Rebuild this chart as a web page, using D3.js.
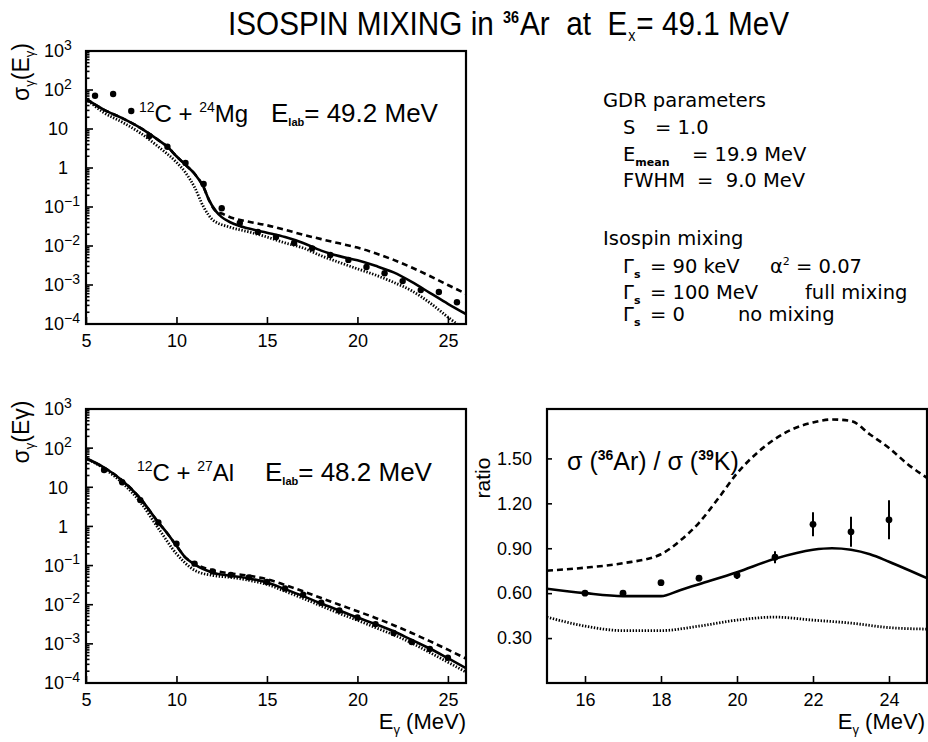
<!DOCTYPE html>
<html>
<head>
<meta charset="utf-8">
<script src="https://cdn.jsdelivr.net/npm/d3@7"></script>
<style>
  body { margin: 0; background: #fff; }
  svg { display: block; }
  text { fill: #000; white-space: pre; }
</style>
</head>
<body>
<svg id="fig" width="928" height="742"></svg>
<script>
// ---- data ----
// 12C + 24Mg, sigma_gamma(E_gamma) ; [E (MeV), sigma]
const mgData = [[5.5, 71], [6.5, 79], [7.5, 29], [8.5, 6.6], [9.5, 3.5], [10.5, 1.35], [11.5, 0.39],
  [12.5, 0.093], [13.5, 0.039], [14.5, 0.023], [15.5, 0.017], [16.5, 0.012], [17.5, 0.0087],
  [18.5, 0.0059], [19.5, 0.0044], [20.5, 0.0029], [21.5, 0.0020], [22.5, 0.00126], [23.5, 0.00074],
  [24.5, 0.00066], [25.5, 0.00036]];
const mgMixing = [[5, 59], [6, 31], [7, 19], [8, 10.7], [9, 5.2], [9.5, 3.5], [10, 2.0], [10.5, 1.2],
  [11, 0.71], [11.5, 0.32], [11.8, 0.15], [12.2, 0.076], [12.5, 0.055], [13, 0.040], [14, 0.028],
  [15, 0.022], [16, 0.017], [17, 0.012], [18, 0.0076], [19, 0.0055], [20, 0.0043], [21, 0.0031],
  [22, 0.0021], [23, 0.0012], [24, 0.00063], [25, 0.00033], [26, 0.00018]];
const mgFull = [[5, 59], [6, 31], [7, 19], [8, 10.7], [9, 5.2], [9.5, 3.5], [10, 2.0], [10.5, 1.2],
  [11, 0.71], [11.5, 0.32], [11.8, 0.15], [12.2, 0.076], [12.5, 0.068], [13, 0.054], [14, 0.042],
  [15, 0.034], [16, 0.026], [17, 0.0195], [18, 0.015], [19, 0.0117], [20, 0.0091], [21, 0.0065],
  [22, 0.0044], [23, 0.0028], [24, 0.0017], [25, 0.001], [26, 0.0006]];
const mgNone = [[5, 59], [6, 26], [7, 15], [8, 7.9], [9, 3.5], [10, 1.4], [10.5, 0.76], [11, 0.32],
  [11.5, 0.10], [12, 0.047], [13, 0.030], [14, 0.023], [15, 0.017], [16, 0.012], [17, 0.0089],
  [18, 0.0056], [19, 0.0038], [20, 0.0026], [21, 0.0018], [22, 0.00117], [23, 0.00071],
  [24, 0.00035], [25, 0.00015], [25.5, 0.0001]];

// 12C + 27Al
const alData = [[6, 27.5], [7, 13.5], [8, 4.7], [9, 1.26], [10, 0.36], [11, 0.112], [12, 0.071],
  [13, 0.058], [14, 0.050], [15, 0.038], [16, 0.026], [17, 0.018], [18, 0.0112], [19, 0.0071],
  [20, 0.0047], [21, 0.0032], [22, 0.0019], [23, 0.00112], [24, 0.00074], [25, 0.00044]];
const alMixing = [[5, 55], [6, 32], [7, 15], [8, 5.2], [9, 1.26], [9.5, 0.66], [10, 0.32], [10.5, 0.16],
  [11, 0.107], [12, 0.066], [13, 0.055], [14, 0.047], [15, 0.037], [16, 0.025], [17, 0.0166],
  [18, 0.0107], [19, 0.0071], [20, 0.0047], [21, 0.0032], [22, 0.0021], [23, 0.00126],
  [24, 0.00076], [25, 0.00043], [26, 0.00024]];
const alFull = [[5, 55], [6, 32], [7, 15], [8, 5.2], [9, 1.26], [9.5, 0.66], [10, 0.32], [10.5, 0.16],
  [11, 0.112], [12, 0.076], [13, 0.063], [14, 0.055], [15, 0.045], [16, 0.032], [17, 0.022],
  [18, 0.0148], [19, 0.010], [20, 0.0068], [21, 0.0046], [22, 0.003], [23, 0.0019],
  [24, 0.00117], [25, 0.00071], [26, 0.00042]];
const alNone = [[5, 55], [6, 30], [7, 13], [8, 4.2], [9, 0.89], [10, 0.20], [11, 0.076], [12, 0.056],
  [13, 0.050], [14, 0.042], [15, 0.033], [16, 0.022], [17, 0.0145], [18, 0.0093], [19, 0.006],
  [20, 0.004], [21, 0.0026], [22, 0.0017], [23, 0.00105], [24, 0.0006], [25, 0.00034], [26, 0.00019]];

// ratio sigma(36Ar) / sigma(39K)
const ratioE = [16, 17, 18, 19, 20, 21, 22, 23, 24];
const ratioVal = [0.60, 0.60, 0.67, 0.70, 0.72, 0.84, 1.06, 1.01, 1.09];
const ratioErr = [0.015, 0.015, 0.015, 0.02, 0.025, 0.04, 0.08, 0.10, 0.13];
const ratioFull = [[15, 0.75], [16, 0.77], [17, 0.80], [18, 0.86], [18.5, 0.95], [19, 1.07], [19.5, 1.23],
  [20, 1.40], [20.5, 1.53], [21, 1.63], [21.5, 1.70], [22, 1.74], [22.5, 1.76], [23, 1.75],
  [23.5, 1.66], [24, 1.57], [24.5, 1.46], [25, 1.37]];
const ratioMixing = [[15, 0.63], [16, 0.60], [17, 0.58], [18, 0.58], [18.5, 0.62], [19, 0.66], [20, 0.74],
  [21, 0.83], [22, 0.89], [22.5, 0.90], [23, 0.89], [23.5, 0.86], [24, 0.81], [25, 0.70]];
const ratioNone = [[15, 0.44], [16, 0.38], [17, 0.35], [18, 0.35], [19, 0.38], [20, 0.42], [21, 0.44],
  [22, 0.42], [23, 0.40], [24, 0.37], [25, 0.36]];

const logExponents = [-4, -3, -2, -1, 0, 1, 2, 3];
const logXTicks = [5, 10, 15, 20, 25];
const ratioYTicks = [0.3, 0.6, 0.9, 1.2, 1.5];
const ratioXTicks = [16, 18, 20, 22, 24];

// ---- drawing ----
const svg = d3.select("#fig");
const tickFont = "Liberation Sans, Arial, sans-serif";
const textFont = "Liberation Sans, Arial, sans-serif";
const legendFont = "DejaVu Sans, sans-serif";

const lineStyles = {
  mixing: { width: 2.6, dash: null },
  full: { width: 2.6, dash: "6,4" },
  none: { width: 2.8, dash: "1.4,1.6" }
};

function drawCurve(g, data, x, y, style) {
  const line = d3.line()
    .x(d => x(d[0]))
    .y(d => y(d[1]))
    .curve(d3.curveMonotoneX);
  g.append("path")
    .datum(data)
    .attr("d", line)
    .attr("fill", "none")
    .attr("stroke", "#000")
    .attr("stroke-width", style.width)
    .attr("stroke-dasharray", style.dash);
}

function addClip(id, box) {
  svg.append("clipPath").attr("id", id)
    .append("rect")
    .attr("x", box.left).attr("y", box.top)
    .attr("width", box.right - box.left).attr("height", box.bottom - box.top);
}

function logPanel(id, box, data, mixing, full, none) {
  const x = d3.scaleLinear().domain([5, 26]).range([box.left, box.right]);
  const y = d3.scaleLog().domain([1e-4, 1e3]).range([box.bottom, box.top]);
  addClip(id, box);

  const plot = svg.append("g").attr("clip-path", `url(#${id})`);
  drawCurve(plot, none, x, y, lineStyles.none);
  drawCurve(plot, full, x, y, lineStyles.full);
  drawCurve(plot, mixing, x, y, lineStyles.mixing);

  plot.selectAll("circle.pt")
    .data(data)
    .enter()
    .append("circle")
    .attr("class", "pt")
    .attr("cx", d => x(d[0]))
    .attr("cy", d => y(d[1]))
    .attr("r", 3.2)
    .attr("fill", "#000");

  // log ticks on the left axis
  const ticks = svg.append("g").attr("stroke", "#000").attr("stroke-width", 1.6);
  logExponents.forEach(k => {
    const v = Math.pow(10, k);
    ticks.append("line")
      .attr("x1", box.left).attr("x2", box.left + 7)
      .attr("y1", y(v)).attr("y2", y(v));
    if (k < 3) {
      for (let m = 2; m <= 9; m++) {
        ticks.append("line")
          .attr("x1", box.left).attr("x2", box.left + 3.5)
          .attr("y1", y(m * v)).attr("y2", y(m * v));
      }
    }
  });

  // log tick labels
  const labels = svg.append("g")
    .attr("font-family", tickFont)
    .attr("font-size", 18);
  logExponents.forEach(k => {
    const ty = y(Math.pow(10, k));
    if (k === 0 || k === 1) {
      labels.append("text")
        .attr("x", 68).attr("y", ty).attr("dy", "0.36em")
        .attr("text-anchor", "end")
        .text(k === 0 ? "1" : "10");
    } else {
      const t = labels.append("text")
        .attr("x", 44).attr("y", ty).attr("dy", "0.36em");
      t.append("tspan").text("10");
      t.append("tspan")
        .attr("font-size", 14)
        .attr("dy", "-0.55em")
        .text(k < 0 ? "\u2212" + (-k) : String(k));
    }
  });

  // bottom axis
  const axis = svg.append("g")
    .attr("transform", `translate(0,${box.bottom})`)
    .attr("font-family", tickFont);
  axis.call(d3.axisBottom(x).tickValues(d3.range(5, 27)).tickSize(-3.5).tickFormat(""));
  axis.call(d3.axisBottom(x).tickValues(logXTicks).tickSize(-7).tickPadding(10).tickFormat(d3.format("d")));
  axis.select(".domain").remove();
  axis.selectAll("line").attr("stroke-width", 1.6);
  axis.selectAll("text").attr("font-size", 18).attr("fill", "#000");

  svg.append("rect")
    .attr("x", box.left).attr("y", box.top)
    .attr("width", box.right - box.left).attr("height", box.bottom - box.top)
    .attr("fill", "none").attr("stroke", "#000").attr("stroke-width", 2.2);
  return { x, y };
}

// title: pieces laid side by side, then squeezed to the narrow look of the original
const titleParts = [
  { t: "ISOSPIN MIXING in ", size: 33, dy: 0 },
  { t: "36", size: 16, dy: -12, bold: true },
  { t: "Ar  at  E", size: 33, dy: 0 },
  { t: "x", size: 16, dy: 6 },
  { t: "= 49.1 MeV", size: 33, dy: 0 }
];
const titleG = svg.append("g").attr("font-family", textFont);
let titleX = 0;
titleParts.forEach(p => {
  const t = titleG.append("text")
    .attr("x", titleX).attr("y", p.dy)
    .attr("font-size", p.size)
    .attr("font-weight", p.bold ? "bold" : null)
    .text(p.t);
  titleX += t.node().getComputedTextLength() + 1;
});
titleG.attr("transform", `translate(228,35) scale(${562 / titleX},1)`);

// top-left panel
const boxMg = { left: 86, right: 466, top: 51, bottom: 324 };
logPanel("clipMg", boxMg, mgData, mgMixing, mgFull, mgNone);

// bottom-left panel
const boxAl = { left: 86, right: 466, top: 409, bottom: 683 };
logPanel("clipAl", boxAl, alData, alMixing, alFull, alNone);

function reactionLabel(x0, xe, yb, target, mass, elab) {
  const t = svg.append("text")
    .attr("x", x0).attr("y", yb)
    .attr("font-family", textFont)
    .attr("font-size", 24);
  t.append("tspan").attr("font-size", 14).attr("dy", -10).text("12");
  t.append("tspan").attr("dy", 10).text("C + ");
  t.append("tspan").attr("font-size", 14).attr("dy", -10).text(mass);
  t.append("tspan").attr("dy", 10).text(target);

  const e = svg.append("text")
    .attr("x", xe).attr("y", yb)
    .attr("font-family", textFont)
    .attr("font-size", 26);
  e.append("tspan").text("E");
  e.append("tspan").attr("font-size", 11).attr("font-weight", "bold").attr("dy", 4).text("lab");
  e.append("tspan").attr("dy", -4).text("= " + elab + " MeV");
}
reactionLabel(139, 271, 122, "Mg", "24", "49.2");
reactionLabel(137, 265, 481, "Al", "27", "48.2");

function sigmaTitle(cy, subE) {
  const t = svg.append("text")
    .attr("transform", `translate(29,${cy}) rotate(-90)`)
    .attr("text-anchor", "middle")
    .attr("font-family", textFont)
    .attr("font-size", 23);
  t.append("tspan").text("\u03c3");
  t.append("tspan").attr("font-size", 13).attr("dy", 5).text("\u03b3");
  t.append("tspan").attr("dy", -5).text("(E");
  if (subE) {
    t.append("tspan").attr("font-size", 13).attr("dy", 5).text("\u03b3");
    t.append("tspan").attr("dy", -5).text(")");
  } else {
    t.append("tspan").text("\u03b3)");
  }
}
sigmaTitle(72, true);
sigmaTitle(432, false);

// ratio panel
const boxR = { left: 547, right: 927, top: 409, bottom: 683 };
const rx = d3.scaleLinear().domain([15, 25]).range([boxR.left, boxR.right]);
const ry = d3.scaleLinear().domain([0, 1.83]).range([boxR.bottom, boxR.top]);
addClip("clipR", boxR);
const rplot = svg.append("g").attr("clip-path", "url(#clipR)");
drawCurve(rplot, ratioNone, rx, ry, lineStyles.none);
drawCurve(rplot, ratioFull, rx, ry, lineStyles.full);
drawCurve(rplot, ratioMixing, rx, ry, lineStyles.mixing);

const pts = ratioE.map((e, i) => ({ e, v: ratioVal[i], err: ratioErr[i] }));
rplot.selectAll("line.err")
  .data(pts)
  .enter()
  .append("line")
  .attr("class", "err")
  .attr("x1", d => rx(d.e)).attr("x2", d => rx(d.e))
  .attr("y1", d => ry(d.v - d.err)).attr("y2", d => ry(d.v + d.err))
  .attr("stroke", "#000").attr("stroke-width", 2);
rplot.selectAll("circle.pt")
  .data(pts)
  .enter()
  .append("circle")
  .attr("class", "pt")
  .attr("cx", d => rx(d.e)).attr("cy", d => ry(d.v))
  .attr("r", 3.4)
  .attr("fill", "#000");

const rxAxis = svg.append("g")
  .attr("transform", `translate(0,${boxR.bottom})`)
  .attr("font-family", tickFont);
rxAxis.call(d3.axisBottom(rx).tickValues(d3.range(15, 25.01, 0.5)).tickSize(-3.5).tickFormat(""));
rxAxis.call(d3.axisBottom(rx).tickValues(ratioXTicks).tickSize(-7).tickPadding(10).tickFormat(d3.format("d")));
rxAxis.select(".domain").remove();
rxAxis.selectAll("line").attr("stroke-width", 1.6);
rxAxis.selectAll("text").attr("font-size", 18).attr("fill", "#000");

const ryAxis = svg.append("g")
  .attr("transform", `translate(${boxR.left},0)`)
  .attr("font-family", tickFont);
ryAxis.call(d3.axisLeft(ry).tickValues(ratioYTicks).tickSize(-5).tickPadding(15).tickFormat(d3.format(".2f")));
ryAxis.select(".domain").remove();
ryAxis.selectAll("line").attr("stroke-width", 1.6);
ryAxis.selectAll("text").attr("font-size", 18).attr("fill", "#000");

svg.append("rect")
  .attr("x", boxR.left).attr("y", boxR.top)
  .attr("width", boxR.right - boxR.left).attr("height", boxR.bottom - boxR.top)
  .attr("fill", "none").attr("stroke", "#000").attr("stroke-width", 2.2);

svg.append("text")
  .attr("transform", "translate(490,478) rotate(-90)")
  .attr("text-anchor", "middle")
  .attr("font-family", textFont)
  .attr("font-size", 21)
  .text("ratio");

const rl = svg.append("text")
  .attr("x", 567).attr("y", 470)
  .attr("font-family", textFont)
  .attr("font-size", 25);
rl.append("tspan").text("\u03c3 (");
rl.append("tspan").attr("font-size", 14).attr("font-weight", "bold").attr("dy", -10).text("36");
rl.append("tspan").attr("dy", 10).text("Ar) / \u03c3 (");
rl.append("tspan").attr("font-size", 14).attr("font-weight", "bold").attr("dy", -10).text("39");
rl.append("tspan").attr("dy", 10).text("K)");

function energyTitle(xr) {
  const t = svg.append("text")
    .attr("x", xr).attr("y", 729)
    .attr("text-anchor", "end")
    .attr("font-family", textFont)
    .attr("font-size", 22);
  t.append("tspan").text("E");
  t.append("tspan").attr("font-size", 13).attr("dy", 5).text("\u03b3");
  t.append("tspan").attr("dy", -5).text(" (MeV)");
}
energyTitle(466);
energyTitle(925);

// GDR / isospin legend text
const leg = svg.append("g")
  .attr("font-family", legendFont)
  .attr("font-size", 19.5);
function legText(x, y, parts) {
  const t = leg.append("text").attr("x", x).attr("y", y);
  parts.forEach(p => {
    const s = t.append("tspan").text(p.t);
    if (p.sub) s.attr("font-size", 11).attr("font-weight", "bold").attr("dy", 5);
    if (p.sup) s.attr("font-size", 11).attr("dy", -8);
    if (p.back) s.attr("dy", p.back);
  });
}
legText(603, 107, [{ t: "GDR parameters" }]);
legText(623, 134, [{ t: "S" }]);
legText(655, 134, [{ t: "= 1.0" }]);
legText(623, 161, [{ t: "E" }, { t: "mean", sub: true }]);
legText(692, 161, [{ t: "= 19.9 MeV" }]);
legText(623, 187, [{ t: "FWHM" }]);
legText(697, 187, [{ t: "=  9.0 MeV" }]);
legText(603, 245, [{ t: "Isospin mixing" }]);
legText(623, 273, [{ t: "\u0393" }, { t: "s", sub: true }]);
legText(650, 273, [{ t: "= 90 keV" }]);
legText(770, 273, [{ t: "\u03b1" }, { t: "2", sup: true }, { t: " = 0.07", back: 8 }]);
legText(623, 299, [{ t: "\u0393" }, { t: "s", sub: true }]);
legText(650, 299, [{ t: "= 100 MeV" }]);
legText(805, 299, [{ t: "full mixing" }]);
legText(623, 321, [{ t: "\u0393" }, { t: "s", sub: true }]);
legText(650, 321, [{ t: "= 0" }]);
legText(738, 321, [{ t: "no mixing" }]);
</script>
</body>
</html>
